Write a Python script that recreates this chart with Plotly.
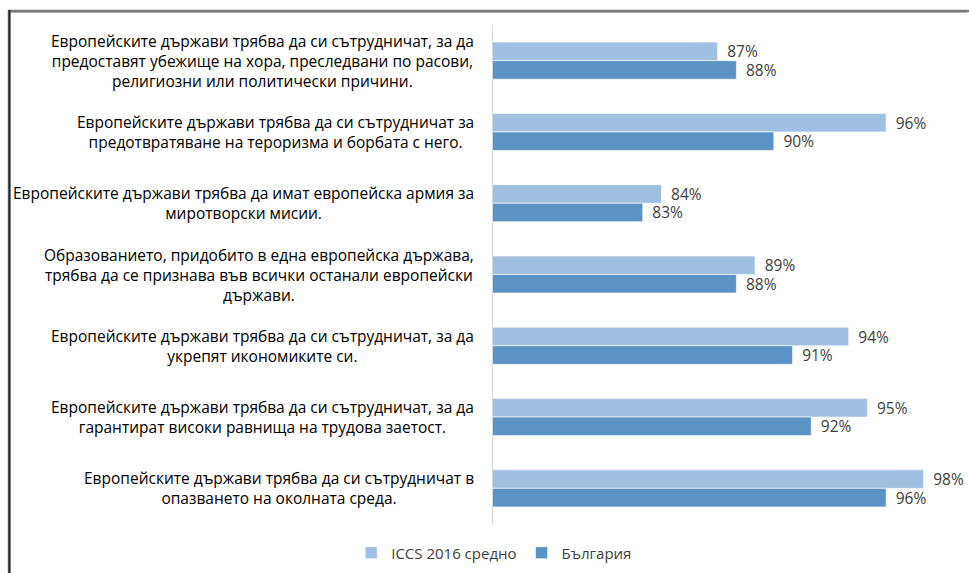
import plotly.graph_objects as go

categories = [
    "Европейските държави трябва да си сътрудничат, за да<br>предоставят убежище на хора, преследвани по расови,<br>религиозни или политически причини.",
    "Европейските държави трябва да си сътрудничат за<br>предотвратяване на тероризма и борбата с него.",
    "Европейските държави трябва да имат европейска армия за<br>миротворски мисии.",
    "Образованието, придобито в една европейска държава,<br>трябва да се признава във всички останали европейски<br>държави.",
    "Европейските държави трябва да си сътрудничат, за да<br>укрепят икономиките си.",
    "Европейските държави трябва да си сътрудничат, за да<br>гарантират високи равнища на трудова заетост.",
    "Европейските държави трябва да си сътрудничат в<br>опазването на околната среда.",
]
series_names = ["ICCS 2016 средно", "България"]
iccs_values = [87, 96, 84, 89, 94, 95, 98]
bulgaria_values = [88, 90, 83, 88, 91, 92, 96]

FONT = "Open Sans"
TXT = "#404040"

fig = go.Figure()
for name, vals, col in [(series_names[0], iccs_values, "#A0C0E2"),
                        (series_names[1], bulgaria_values, "#5B93C4")]:
    fig.add_trace(go.Bar(
        y=categories, x=vals, name=name, orientation="h",
        marker=dict(color=col, line=dict(color="rgba(255,255,255,0.6)", width=1)),
        text=[f"\u00a0\u2009{v}%" for v in vals], textposition="outside",
        constraintext="none",
        textfont=dict(family=FONT, size=15.5, color=TXT),
        cliponaxis=False,
    ))

for c in categories:
    fig.add_annotation(x=0, xref="paper", y=c, yref="y", text=c,
                       xanchor="right", yanchor="middle", align="center",
                       xshift=-17, showarrow=False,
                       font=dict(family=FONT, size=15.5, color="#000000"))

W, H = 969, 573
ml, mr, mt, mb = 493, 8, 25, 49
pw, ph = W - ml - mr, H - mt - mb

def px(x):
    return (x - ml) / pw

def py(y):
    return (H - mb - y) / ph

# outer frame (top and left edges)
fig.add_shape(type="rect", xref="paper", yref="paper",
              x0=px(9), x1=px(1000), y0=py(600), y1=py(11),
              fillcolor="rgba(0,0,0,0)",
              line=dict(color="#7a7a7a", width=2.5), layer="below")
fig.add_shape(type="line", xref="paper", yref="paper",
              x0=px(9), x1=px(967), y0=py(11.5), y1=py(11.5),
              line=dict(color="#7a7a7a", width=2), layer="above")
fig.add_shape(type="rect", xref="paper", yref="paper",
              x0=px(8.5), x1=px(10.5), y0=py(573), y1=py(10),
              fillcolor="#262626", line=dict(width=0), layer="above")

fig.update_layout(
    width=W, height=H,
    margin=dict(l=ml, r=mr, t=mt, b=mb),
    paper_bgcolor="white", plot_bgcolor="white",
    barmode="group", bargap=0.48, bargroupgap=0,
    font=dict(family=FONT, size=15, color=TXT),
    xaxis=dict(range=[75, 100], showticklabels=False, showgrid=False,
               zeroline=False, showline=False, ticks=""),
    yaxis=dict(autorange="reversed", showticklabels=False, showgrid=False,
               zeroline=False, showline=True, linecolor="#D9D9D9", linewidth=1,
               ticks=""),
    legend=dict(orientation="h", xref="container", yref="container",
                x=0.51, y=0.035, xanchor="center", yanchor="middle",
                font=dict(family=FONT, size=15, color=TXT),
                traceorder="normal"),
    showlegend=True,
)

fig.write_html("out.html", config={"displayModeBar": False},
               post_script="document.body.style.margin='0';document.body.style.overflow='hidden';")
